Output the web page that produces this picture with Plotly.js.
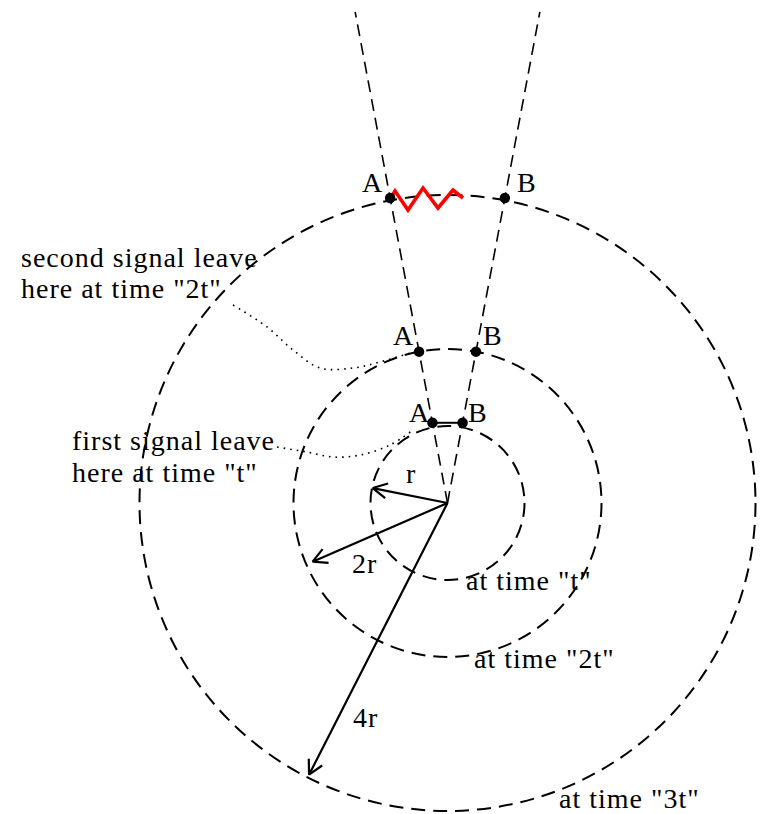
<!DOCTYPE html>
<html>
<head>
<meta charset="utf-8">
<script src="https://cdn.plot.ly/plotly-3.0.1.min.js"></script>
<style>
html,body{margin:0;padding:0;background:#fff;}
#chart{width:760px;height:814px;}
#chart text.annotation-text{letter-spacing:1px;}
</style>
</head>
<body>
<div id="chart"></div>
<script>
// ---- data (diagram units: 1 = r, origin at the source point) ----
const waveRadii = [1, 2, 4];
const waveLabels = ['at time "t"', 'at time "2t"', 'at time "3t"'];
const rayAngles = [-10.65, 10.65];          // degrees from vertical (A side, B side)
const rayLength = 6.49;
const pointNames = ['A', 'B'];
const pointRadii = [1.06, 2.0, 4.03];
const arrowAngles = [168.7, 203.5, 243.0];  // degrees, counter-clockwise from +x
const arrowLengths = [0.99, 1.91, 3.96];
const arrowLabels = ['r', '2r', '4r'];
const signalX = [-0.747, -0.682, -0.513, -0.318, -0.123, 0.071, 0.201];
const signalY = [3.948, 4.052, 3.805, 4.091, 3.831, 4.065, 3.961];
const note2tX = [-2.786, -2.344, -2.006, -1.656, -1.227, -0.877, -0.487];
const note2tY = [2.571, 2.286, 1.987, 1.753, 1.753, 1.831, 1.948];
const note1tX = [-2.214, -1.825, -1.487, -1.136, -0.747, -0.448];
const note1tY = [0.727, 0.662, 0.597, 0.623, 0.753, 0.948];
const note2tLines = ['second signal leave', 'here at time "2t"'];
const note1tLines = ['first signal leave', 'here at time "t"'];

// ---- geometry helpers ----
const U = 77, CX = 447.5, CY = 503;
const P = (px, py) => [(px - CX) / U, (CY - py) / U];
const rad = d => d * Math.PI / 180;
const rayPoint = (ang, len) => [len * Math.sin(rad(ang)), len * Math.cos(rad(ang))];

const FONT = 'Liberation Serif, Times New Roman, serif';
const FS = 28;
const traces = [];
const shapes = [];
const annotations = [];

// circles (wavefronts)
waveRadii.forEach(R => {
  shapes.push({type: 'circle', xref: 'x', yref: 'y', x0: -R, y0: -R, x1: R, y1: R,
    line: {color: '#000', width: 2, dash: '14px,8px'}, layer: 'below'});
});

// rays
rayAngles.forEach(a => {
  const e = rayPoint(a, rayLength);
  traces.push({x: [0, e[0]], y: [0, e[1]], mode: 'lines',
    line: {color: '#000', width: 1.6, dash: '12px,7px'}, hoverinfo: 'skip'});
});

// solid chord between the first A and B points
const a1 = rayPoint(rayAngles[0], pointRadii[0]);
const b1 = rayPoint(rayAngles[1], pointRadii[0]);
traces.push({x: [a1[0], b1[0]], y: [a1[1], b1[1]], mode: 'lines',
  line: {color: '#000', width: 2}, hoverinfo: 'skip'});

// dotted leader curves
const dotLine = {color: '#000', width: 1.6, dash: '1.6px,5px', shape: 'spline'};
traces.push({x: note2tX, y: note2tY, mode: 'lines', line: dotLine, hoverinfo: 'skip'});
traces.push({x: note1tX, y: note1tY, mode: 'lines', line: dotLine, hoverinfo: 'skip'});

// arrows
const headLen = 16 / U, headAng = 28;
arrowAngles.forEach((ang, i) => {
  const L = arrowLengths[i];
  const tx = L * Math.cos(rad(ang)), ty = L * Math.sin(rad(ang));
  const back = ang + 180;
  const h1 = [tx + headLen * Math.cos(rad(back + headAng)), ty + headLen * Math.sin(rad(back + headAng))];
  const h2 = [tx + headLen * Math.cos(rad(back - headAng)), ty + headLen * Math.sin(rad(back - headAng))];
  traces.push({x: [0, tx, h1[0], null, tx, h2[0]], y: [0, ty, h1[1], null, ty, h2[1]],
    mode: 'lines', line: {color: '#000', width: 2.2}, hoverinfo: 'skip'});
});

// red signal
traces.push({x: signalX, y: signalY, mode: 'lines', line: {color: '#ff0000', width: 3.6}, hoverinfo: 'skip'});

// points A, B
const dx = [], dy = [];
pointRadii.forEach(R => rayAngles.forEach(a => { const p = rayPoint(a, R); dx.push(p[0]); dy.push(p[1]); }));
traces.push({x: dx, y: dy, mode: 'markers', marker: {color: '#000', size: 10.5}, hoverinfo: 'skip'});

// text helper: (px, py) = left/centre x and vertical centre in page pixels
function txt(text, px, py, xanchor) {
  const p = P(px, py);
  annotations.push({x: p[0], y: p[1], xref: 'x', yref: 'y', text: text, showarrow: false,
    xanchor: xanchor || 'center', yanchor: 'middle', align: 'left',
    font: {family: FONT, size: FS, color: '#000'}});
}
// point labels
const labelPos = [[[372, 182], [526, 182]], [[403, 335], [492, 335]], [[419, 412], [477, 412]]];
labelPos.forEach(pair => pair.forEach((q, j) => txt(pointNames[j], q[0], q[1])));
// radius labels
const radLabelPos = [[411, 473], [364, 563], [365, 717]];
arrowLabels.forEach((t, i) => txt(t, radLabelPos[i][0], radLabelPos[i][1]));
// wavefront time labels
const timePos = [[464, 580], [472, 658], [557, 798]];
waveLabels.forEach((t, i) => txt(t, timePos[i][0], timePos[i][1], 'left'));
// notes
txt(note2tLines[0], 19, 257, 'left');
txt(note2tLines[1], 19, 288, 'left');
txt(note1tLines[0], 70, 440, 'left');
txt(note1tLines[1], 70, 472, 'left');

const xr = [-CX / U, (760 - CX) / U];
const yr = [-(814 - CY) / U, CY / U];
Plotly.newPlot('chart', traces, {
  width: 760, height: 814,
  margin: {l: 0, r: 0, t: 0, b: 0},
  paper_bgcolor: '#fff', plot_bgcolor: '#fff',
  showlegend: false,
  xaxis: {range: xr, visible: false, fixedrange: true},
  yaxis: {range: yr, visible: false, fixedrange: true},
  shapes: shapes,
  annotations: annotations
}, {staticPlot: true, displayModeBar: false});
</script>
</body>
</html>
